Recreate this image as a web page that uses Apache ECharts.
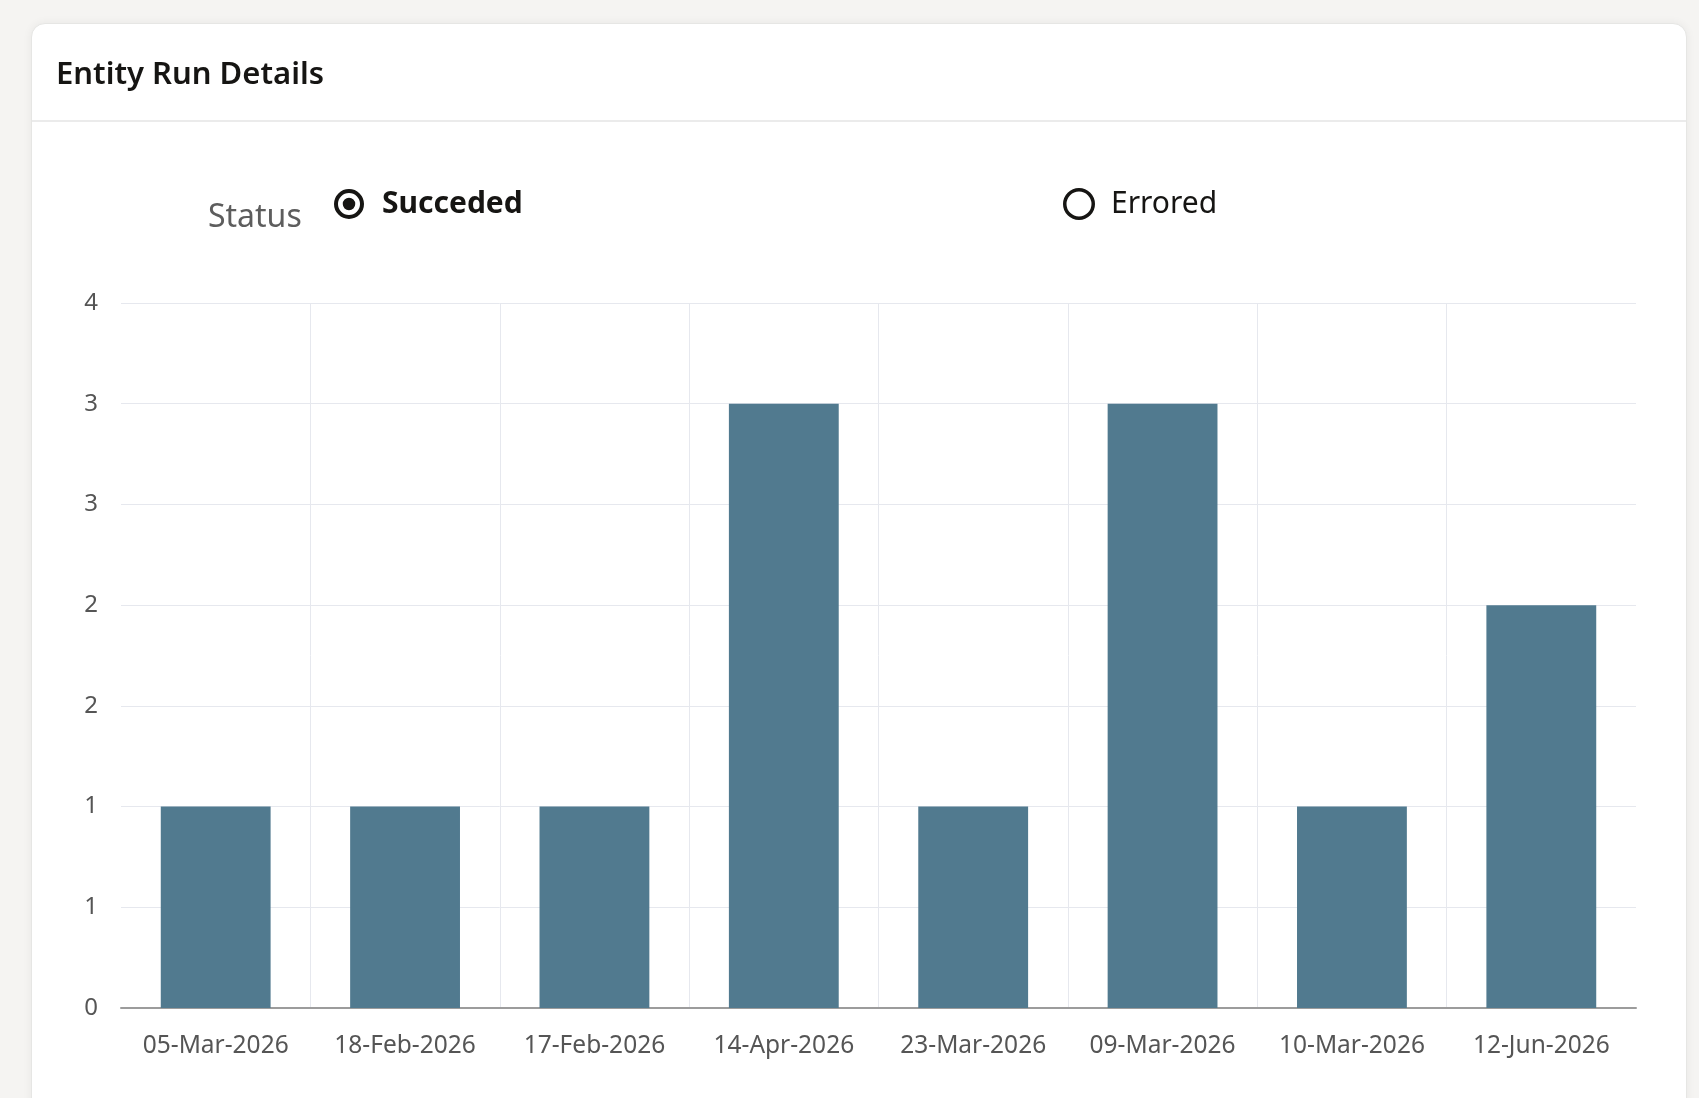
<!DOCTYPE html>
<html>
<head>
<meta charset="utf-8">
<script src="https://cdn.jsdelivr.net/npm/echarts@6/dist/echarts.min.js"></script>
<style>
  html, body { margin: 0; padding: 0; width: 1699px; height: 1098px; overflow: hidden; background: #f5f4f2; }
  #card { position: absolute; left: 31px; top: 23px; width: 1656px; height: 1200px; background: #fff;
          border: 1px solid #e6e6e4; border-radius: 14px; box-shadow: 0 0 10px rgba(0,0,0,0.06); box-sizing: border-box; }
  #divider { position: absolute; left: 0; right: 0; top: 96px; height: 2px; background: #ebebeb; }
  #chart { position: absolute; left: 0; top: 0; width: 1699px; height: 1098px; }
</style>
</head>
<body>
<div id="card"><div id="divider"></div></div>
<div id="chart"></div>
<script>
// ---- data ----
const categories = ['05-Mar-2026', '18-Feb-2026', '17-Feb-2026', '14-Apr-2026', '23-Mar-2026', '09-Mar-2026', '10-Mar-2026', '12-Jun-2026'];
const succededValues = [1, 1, 1, 3, 1, 3, 1, 2];
const erroredValues = [];
const seriesNames = ['Succeded', 'Errored'];
const yMin = 0, yMax = 3.5, yInterval = 0.5;
const titleText = 'Entity Run Details';
const groupLabel = 'Status';

const FONT = '"Noto Sans", "Open Sans", sans-serif';
const radioOn = 'path://M15,0 A15,15 0 1,1 15,30 A15,15 0 1,1 15,0 Z M15,4 A11,11 0 1,0 15,26 A11,11 0 1,0 15,4 Z M15,8.75 A6.25,6.25 0 1,1 15,21.25 A6.25,6.25 0 1,1 15,8.75 Z';
const radioOff = 'path://M16,0 A16,16 0 1,1 16,32 A16,16 0 1,1 16,0 Z M16,3.5 A12.5,12.5 0 1,0 16,28.5 A12.5,12.5 0 1,0 16,3.5 Z';

const chart = echarts.init(document.getElementById('chart'), null, { renderer: 'canvas' });
chart.setOption({
  backgroundColor: 'transparent',
  animation: false,
  textStyle: { fontFamily: FONT },
  graphic: [
    { type: 'text', left: 56, top: 60, style: { text: titleText, font: '600 31px ' + FONT, fill: '#161513' } },
    { type: 'text', left: 208, top: 202, style: { text: groupLabel, font: '32px ' + FONT, fill: '#5d5d5d' } }
  ],
  legend: [
    {
      left: 334, top: 189, padding: 0, itemWidth: 30, itemHeight: 30, selectedMode: false,
      textStyle: { fontSize: 30, color: '#161513', fontFamily: FONT, padding: [0, 0, 0, 13] },
      data: [{ name: seriesNames[0], icon: radioOn, itemStyle: { color: '#161513' }, textStyle: { fontWeight: 'bold' } }]
    },
    {
      left: 1063, top: 188, padding: 0, itemWidth: 32, itemHeight: 32, selectedMode: false,
      textStyle: { fontSize: 30, color: '#161513', fontFamily: FONT, padding: [0, 0, 0, 11] },
      data: [{ name: seriesNames[1], icon: radioOff, itemStyle: { color: '#161513' } }]
    }
  ],
  grid: { left: 121, right: 63, top: 303, bottom: 90, outerBoundsMode: 'none' },
  xAxis: {
    type: 'category',
    data: categories,
    axisLine: { lineStyle: { color: '#9c9c9c', width: 2 } },
    axisTick: { show: false, interval: 0 },
    axisLabel: { interval: 0, hideOverlap: false, color: '#555555', fontSize: 24.5, margin: 26, fontFamily: FONT },
    splitLine: { show: true, interval: 0, showMinLine: false, showMaxLine: false, lineStyle: { color: '#e6e8ee', width: 1 } }
  },
  yAxis: {
    type: 'value',
    min: yMin, max: yMax, interval: yInterval,
    axisLine: { show: false },
    axisTick: { show: false },
    axisLabel: { color: '#555555', fontSize: 24, margin: 23, fontFamily: FONT, formatter: v => String(Math.round(v)) },
    splitLine: { lineStyle: { color: '#e6e8ee', width: 1 } }
  },
  series: [
    { name: seriesNames[0], type: 'bar', stack: 'status', data: succededValues, barWidth: '58%',
      itemStyle: { color: '#517a8f' } },
    { name: seriesNames[1], type: 'bar', stack: 'status', data: erroredValues, barWidth: '58%',
      itemStyle: { color: '#c74634' } }
  ]
});
</script>
</body>
</html>
